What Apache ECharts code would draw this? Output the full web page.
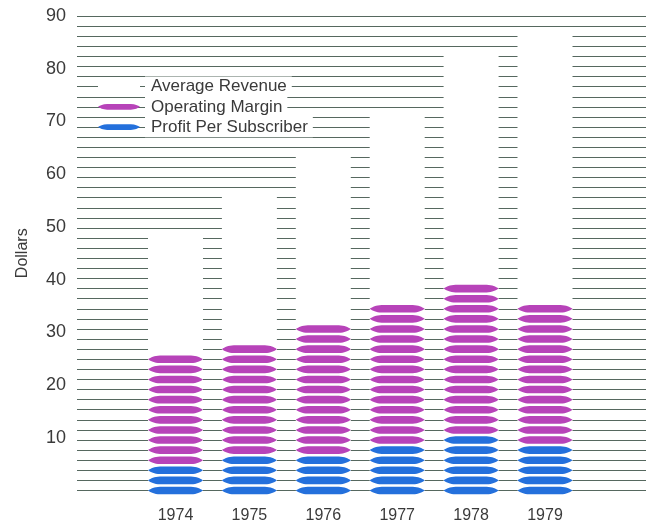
<!DOCTYPE html>
<html>
<head>
<meta charset="utf-8">
<script src="https://cdn.jsdelivr.net/npm/echarts@6/dist/echarts.min.js"></script>
<style>
  html, body { margin: 0; padding: 0; background: #fff; }
  #chart { width: 656px; height: 525px; }
</style>
</head>
<body>
<div id="chart"></div>
<script>
// Years on the horizontal axis
const years = ['1974', '1975', '1976', '1977', '1978', '1979'];
// Dollars per subscriber
const averageRevenue = [49, 56.5, 64, 72, 83, 87];
const operatingMargin = [25, 27, 31, 34.5, 38.5, 34.5];
const profitPerSubscriber = [4, 6, 6, 8, 9.5, 7.5];
// Value axis tick labels
const dollarTicks = [10, 20, 30, 40, 50, 60, 70, 80, 90];

// Decorative ruling: 47 evenly spaced stripes across the 0-90 range
const Y_MAX = 90;
const STRIPES = 47;
const STEP = Y_MAX / STRIPES;

// Pointed lozenge used for each margin/profit unit
const LENS_PATH = 'M0,4 C3,2 6,0.4 12,0.2 L43,0.2 C49,0.4 52,2 55,4 C52,6 49,7.6 43,7.8 L12,7.8 C6,7.6 3,6 0,4 Z';
const LENS_W = 55;
const LENS_H = 9;
const MAGENTA = '#b743b9';
const BLUE = '#2470dc';
const INK = '#3a3a3a';
const FONT = '"Liberation Sans", Arial, sans-serif';

// Draws one lozenge on every stripe from the base value up to the series value
function lensRenderer(color) {
  return function (params, api) {
    const cat = api.value(0);
    const top = api.value(1);
    const base = api.value(2);
    const first = base < 0 ? 0 : Math.round(base / STEP) + 1;
    const last = Math.round(top / STEP);
    const children = [];
    for (let k = first; k <= last; k++) {
      const p = api.coord([cat, k * STEP]);
      children.push({
        type: 'path',
        shape: {
          pathData: LENS_PATH,
          x: p[0] - LENS_W / 2,
          y: p[1] - LENS_H / 2,
          width: LENS_W,
          height: LENS_H
        },
        style: { fill: color }
      });
    }
    return { type: 'group', children: children };
  };
}

const chart = echarts.init(document.getElementById('chart'), null, { renderer: 'canvas' });

const option = {
  animation: false,
  backgroundColor: '#fff',
  textStyle: { fontFamily: FONT },
  grid: [
    { left: 77, right: 10, top: 16, bottom: 34.5 },
    { left: 138.55, right: 74.05, top: 16, bottom: 34.5 }
  ],
  xAxis: [
    { type: 'value', gridIndex: 0, min: 0, max: 1, show: false },
    {
      type: 'category',
      gridIndex: 1,
      data: years,
      axisLine: { show: false },
      axisTick: { show: false },
      axisLabel: { margin: 17, fontSize: 16, color: INK, fontFamily: FONT }
    }
  ],
  yAxis: [
    {
      type: 'value',
      gridIndex: 0,
      min: 0,
      max: Y_MAX,
      interval: 10,
      name: 'Dollars',
      nameLocation: 'middle',
      nameGap: 46,
      nameTextStyle: { fontSize: 16, color: INK, fontFamily: FONT },
      axisLine: { show: false },
      axisTick: { show: false },
      splitLine: { show: false },
      axisLabel: {
        margin: 11,
        fontSize: 18,
        color: INK,
        fontFamily: FONT,
        formatter: function (v) { return dollarTicks.indexOf(v) >= 0 ? String(v) : ''; }
      }
    },
    {
      type: 'value',
      gridIndex: 0,
      position: 'right',
      min: 0,
      max: STRIPES,
      interval: 1,
      axisLine: { show: false },
      axisTick: { show: false },
      axisLabel: { show: false },
      splitLine: { show: true, lineStyle: { color: '#56685f', width: 1.2 } }
    },
    { type: 'value', gridIndex: 1, min: 0, max: Y_MAX, show: false }
  ],
  legend: {
    orient: 'vertical',
    left: 98,
    top: 76.57,
    padding: 0,
    itemGap: 0,
    itemWidth: 42,
    itemHeight: 9,
    selectedMode: false,
    textStyle: {
      fontSize: 17,
      color: INK,
      fontFamily: FONT,
      backgroundColor: '#fff',
      padding: [2, 5, 2, 6],
      lineHeight: 16.19
    },
    data: [
      { name: 'Average Revenue', icon: 'rect' },
      { name: 'Operating Margin', icon: 'path://' + LENS_PATH },
      { name: 'Profit Per Subscriber', icon: 'path://' + LENS_PATH }
    ]
  },
  series: [
    {
      name: 'Average Revenue',
      type: 'bar',
      xAxisIndex: 1,
      yAxisIndex: 2,
      data: averageRevenue,
      barWidth: 55,
      itemStyle: { color: '#fff' },
      silent: true,
      z: 3
    },
    {
      name: 'Operating Margin',
      type: 'custom',
      xAxisIndex: 1,
      yAxisIndex: 2,
      encode: { x: 0, y: 1 },
      data: operatingMargin.map(function (v, i) { return [i, v, profitPerSubscriber[i]]; }),
      renderItem: lensRenderer(MAGENTA),
      itemStyle: { color: MAGENTA },
      silent: true,
      z: 4
    },
    {
      name: 'Profit Per Subscriber',
      type: 'custom',
      xAxisIndex: 1,
      yAxisIndex: 2,
      encode: { x: 0, y: 1 },
      data: profitPerSubscriber.map(function (v, i) { return [i, v, -1]; }),
      renderItem: lensRenderer(BLUE),
      itemStyle: { color: BLUE },
      silent: true,
      z: 4
    }
  ]
};

chart.setOption(option);
</script>
</body>
</html>
